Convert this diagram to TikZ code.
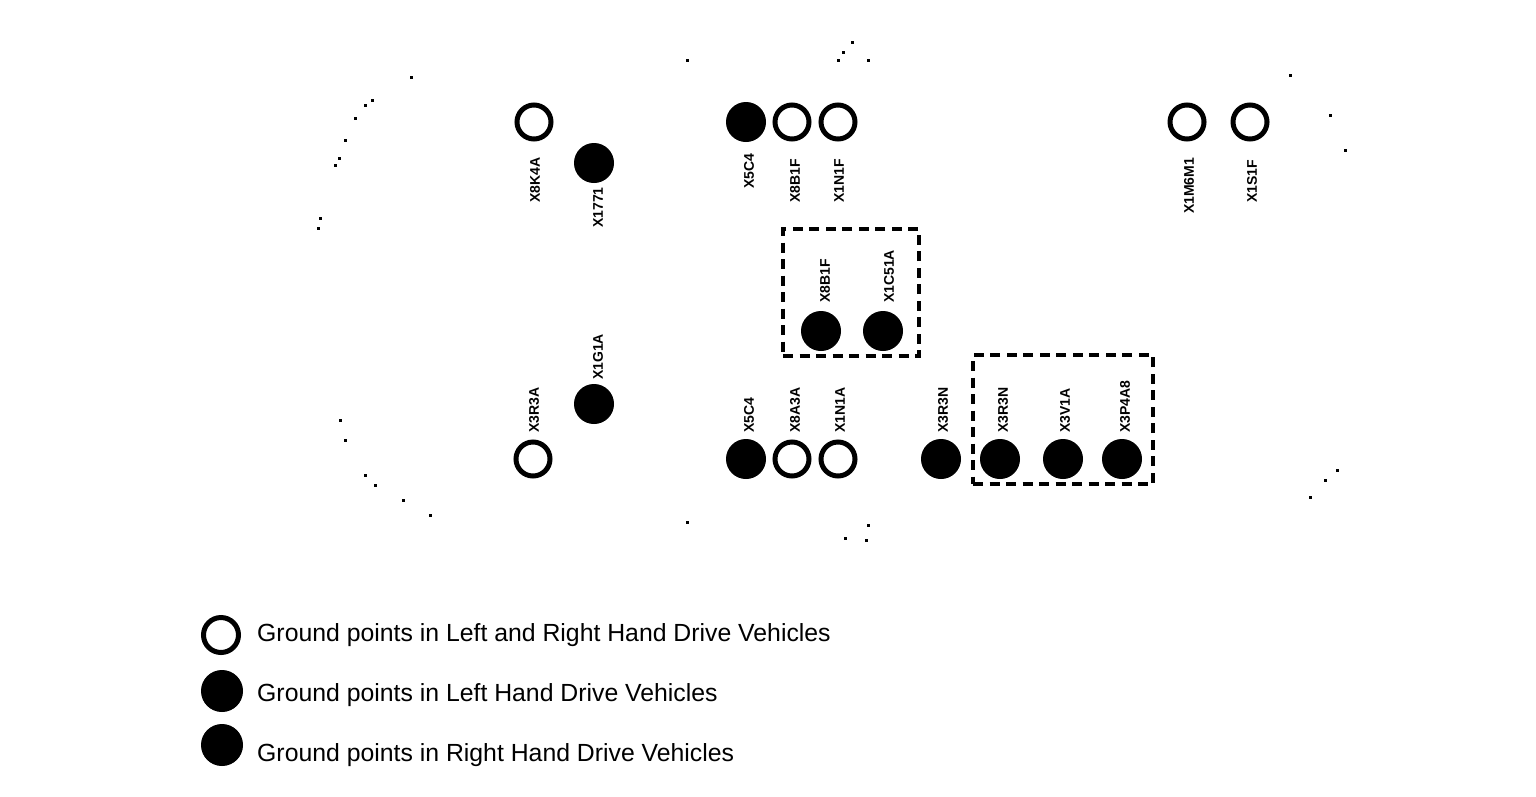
\documentclass[tikz,border=0pt]{standalone}
\usepackage{fontspec}
\setmainfont{Liberation Sans}
\tikzset{
  openpt/.style={circle,draw=black,fill=white,line width=5pt,minimum size=34pt,inner sep=0pt},
  fullpt/.style={circle,draw=black,fill=black,line width=1pt,minimum size=39pt,inner sep=0pt},
  lbl/.style={rotate=90,anchor=west,inner sep=0pt,font=\fontsize{14}{14}\selectfont\bfseries},
  legendtxt/.style={anchor=base west,inner sep=0pt,font=\fontsize{24.8}{25}\selectfont},
  groupbox/.style={draw=black,line width=3.5pt,dash pattern=on 10pt off 6.5pt},
  speck/.style={fill=black,draw=none}
}
\begin{document}
\begin{tikzpicture}[x=1pt,y=-1pt]
\useasboundingbox[fill=white] (0,0) rectangle (1536,796);
% faint outline specks
\foreach \p/\q in {411/77,372/100,365/105,355/118,345/140,339/158,335/165,320/218,318/228,340/420,345/440,365/475,375/485,403/500,430/515,687/60,843/52,852/42,838/60,868/60,687/522,868/525,845/538,866/540,1290/75,1330/115,1345/150,1337/470,1325/480,1310/497}
  \fill[speck] (\p-1.5,\q-1.5) rectangle (\p+1.5,\q+1.5);
% group boxes
\node[groupbox,minimum width=136pt,minimum height=127pt,inner sep=0pt] (boxa) at (851,292.5) {};
\node[groupbox,minimum width=180pt,minimum height=129pt,inner sep=0pt] (boxb) at (1063,419.5) {};
% top row
\node[openpt] (t1) at (534,122) {};
\node[fullpt] (t2) at (594,163) {};
\node[fullpt] (t3) at (746,122) {};
\node[openpt] (t4) at (792,122) {};
\node[openpt] (t5) at (838,122) {};
\node[openpt] (t6) at (1187,122) {};
\node[openpt] (t7) at (1250,122) {};
% middle box
\node[fullpt] (m1) at (821,331) {};
\node[fullpt] (m2) at (883,331) {};
% bottom row
\node[openpt] (b1) at (533,459) {};
\node[fullpt] (b2) at (594,404) {};
\node[fullpt] (b3) at (746,459) {};
\node[openpt] (b4) at (792,459) {};
\node[openpt] (b5) at (838,459) {};
\node[fullpt] (b6) at (941,459) {};
\node[fullpt] (b7) at (1000,459) {};
\node[fullpt] (b8) at (1063,459) {};
\node[fullpt] (b9) at (1122,459) {};
% labels
\node[lbl] (lt1) at (535,203) {X8K4A};
\node[lbl] (lt2) at (598,228) {X1771};
\node[lbl] (lt3) at (749,189) {X5C4};
\node[lbl] (lt4) at (795,203) {X8B1F};
\node[lbl] (lt5) at (839,203) {X1N1F};
\node[lbl] (lt6) at (1189,214) {X1M6M1};
\node[lbl] (lt7) at (1252,203) {X1S1F};
\node[lbl] (lm1) at (825,303) {X8B1F};
\node[lbl] (lm2) at (889,303) {X1C51A};
\node[lbl] (lb1) at (534,433) {X3R3A};
\node[lbl] (lb2) at (598,380) {X1G1A};
\node[lbl] (lb3) at (749,433) {X5C4};
\node[lbl] (lb4) at (795,433) {X8A3A};
\node[lbl] (lb5) at (840,433) {X1N1A};
\node[lbl] (lb6) at (943,433) {X3R3N};
\node[lbl] (lb7) at (1003,433) {X3R3N};
\node[lbl] (lb8) at (1065,433) {X3V1A};
\node[lbl] (lb9) at (1125,433) {X3P4A8};
% legend
\node[openpt,line width=5pt,minimum size=35pt] (k1) at (221,635) {};
\node[fullpt,minimum size=41pt] (k2) at (222,691) {};
\node[fullpt,minimum size=41pt] (k3) at (222,745) {};
\node[legendtxt] (t1k) at (257,641) {Ground points in Left and Right Hand Drive Vehicles};
\node[legendtxt] (t2k) at (257,701) {Ground points in Left Hand Drive Vehicles};
\node[legendtxt] (t3k) at (257,761) {Ground points in Right Hand Drive Vehicles};
\end{tikzpicture}
\end{document}
